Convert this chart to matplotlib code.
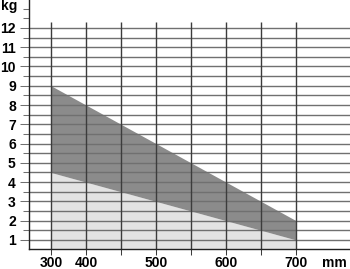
"""Load chart: permitted weight (kg) against width (mm)."""
import numpy as np
import matplotlib
matplotlib.use("Agg")
import matplotlib.pyplot as plt
from matplotlib.ticker import FixedLocator, FixedFormatter, MultipleLocator, NullFormatter

# widths in mm and the load band (kg)
width_mm = [300, 400, 500, 600, 700]
load_max = [9, 8, 6, 4, 2]
load_min = [4.5, 4, 3, 2, 1]

x_labels = [300, 400, 500, 600, 700]
x_minor = [450, 550, 650]
y_labels = list(range(1, 13))


def forward(x):
    # 300-400 takes one grid step, above that one step per 50 mm
    x = np.asarray(x, dtype=float)
    return np.where(x <= 400, (x - 300) / 100.0, 1 + (x - 400) / 50.0)


def inverse(p):
    p = np.asarray(p, dtype=float)
    return np.where(p <= 1, 300 + 100.0 * p, 400 + 50.0 * (p - 1))


plt.rcParams["font.family"] = ["Liberation Sans", "DejaVu Sans"]
FS = 10

fig = plt.figure(figsize=(3.5, 2.69), dpi=100)
ax = fig.add_axes([29 / 350, 20 / 269, 1 - 29 / 350, 249 / 269])
ax.set_xscale("function", functions=(forward, inverse))
ax.set_xlim(237, 777)
ax.set_ylim(0.53, 13.45)

dark = "#8b8b8b"
light = "#e3e3e3"
hline = "#707070"
vline = "#3c3c3c"

x = np.array(width_mm)
ax.fill_between(x, 0.53, load_min, color=light, lw=0, zorder=1)
ax.fill_between(x, load_min, load_max, color=dark, lw=0, zorder=1)

# horizontal rules every half kilogram
ax.yaxis.set_major_locator(FixedLocator(y_labels))
ax.yaxis.set_minor_locator(MultipleLocator(0.5))
ax.yaxis.set_minor_formatter(NullFormatter())
for v in np.arange(1.0, 12.01, 0.5):
    ax.axhline(v, color=hline, lw=1.0, zorder=2)

# vertical rules stop a little above 12 kg
ax.vlines(x_labels + x_minor, 0.53, 12.3, color=vline, lw=1.0, zorder=3)

ax.xaxis.set_major_locator(FixedLocator(x_labels))
ax.xaxis.set_minor_locator(FixedLocator(x_minor))
ax.xaxis.set_major_formatter(FixedFormatter([str(v) for v in x_labels]))
ax.xaxis.set_minor_formatter(NullFormatter())

ax.tick_params(axis="y", which="major", length=6.5, width=0.75, color=hline,
               pad=3.0, labelsize=FS)
ax.tick_params(axis="y", which="minor", length=4.3, width=0.75, color=hline)
ax.tick_params(axis="x", which="both", length=4.3, width=0.75, color=vline,
               pad=0.8, labelsize=FS)
for lab in ax.get_xticklabels() + ax.get_yticklabels():
    lab.set_fontweight("bold")

for side in ("top", "right"):
    ax.spines[side].set_visible(False)
for side in ("left", "bottom"):
    ax.spines[side].set_color("#222222")
    ax.spines[side].set_linewidth(1.0)
    ax.spines[side].set_zorder(4)

fig.text(0.5 / 350, 1 - 10 / 269, "kg", fontsize=FS, fontweight="bold",
         ha="left", va="baseline")
# "mm" sits on the same baseline as the x tick labels
ax.annotate("mm", xy=(334 / 350, 0), xycoords=("figure fraction", "axes fraction"),
            xytext=(0, -4.3 - 0.8), textcoords="offset points",
            fontsize=FS, fontweight="bold", ha="center", va="top")

fig.savefig("out.png", dpi=100)
